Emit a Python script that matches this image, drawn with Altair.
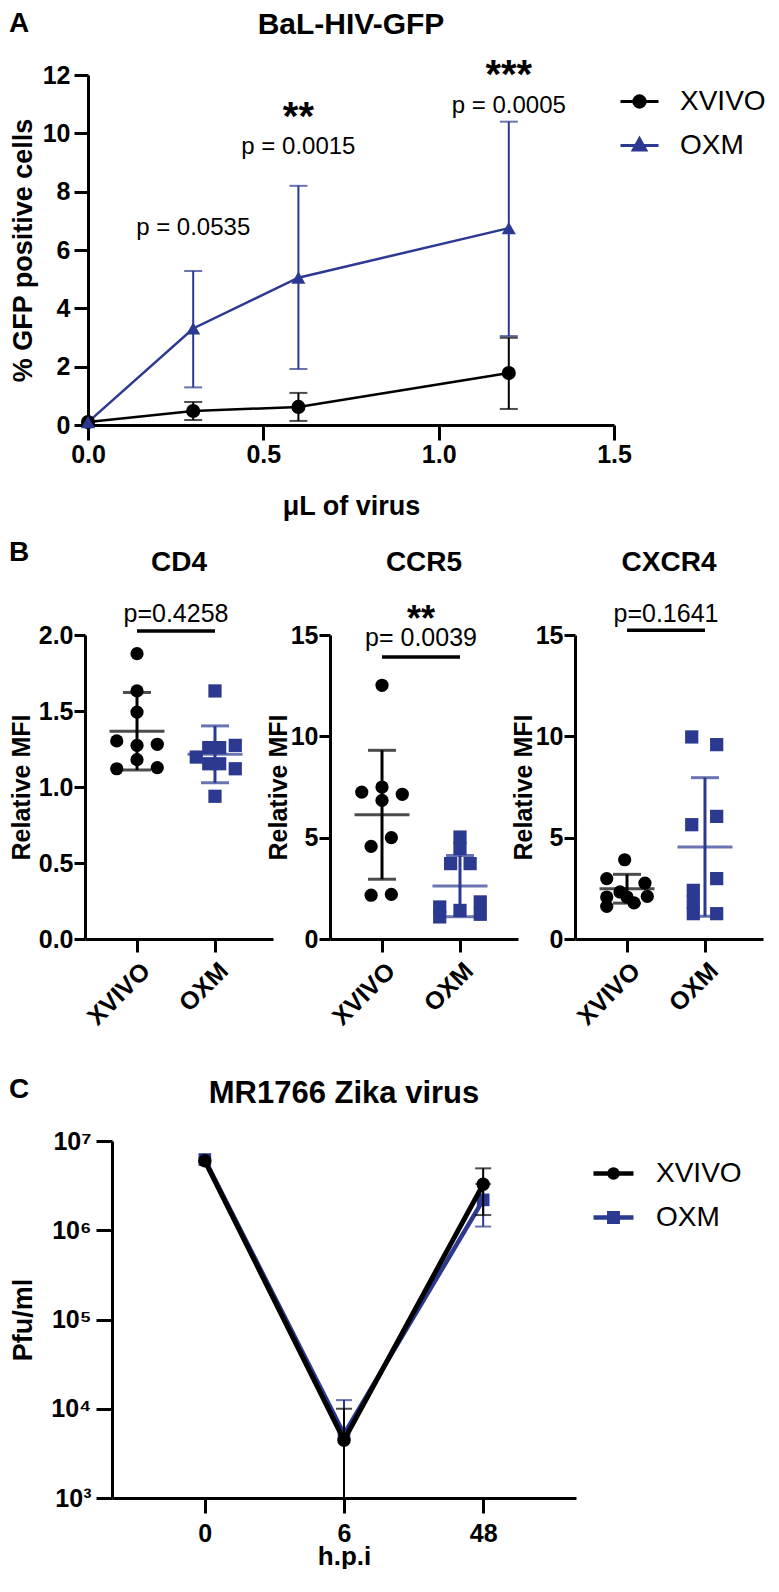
import altair as alt
import pandas as pd

BLUE = "#2B3990"
FONT = "Liberation Sans"
SERIES = ["XVIVO", "OXM"]

# ---------------- Panel A : BaL-HIV-GFP ----------------
hiv_dose = [0.0, 0.3, 0.6, 1.2]
hiv_xvivo_mean = [0.10, 0.48, 0.62, 1.78]
hiv_xvivo_lo = [0.10, 0.17, 0.14, 0.55]
hiv_xvivo_hi = [0.10, 0.79, 1.10, 2.99]
hiv_oxm_mean = [0.10, 3.31, 5.05, 6.75]
hiv_oxm_lo = [0.10, 1.29, 1.92, 3.05]
hiv_oxm_hi = [0.10, 5.28, 8.20, 10.40]
hiv_p_dose = [0.3, 0.6, 1.2]
hiv_p_text = ["p = 0.0535", "p = 0.0015", "p = 0.0005"]
hiv_p_y = [6.77, 9.52, 10.95]
hiv_star_dose = [0.6, 1.2]
hiv_star_text = ["**", "***"]
hiv_star_y = [10.52, 11.96]

# ---------------- Panel B : receptor MFI ----------------
cd4_xvivo = [1.877, 1.632, 1.493, 1.303, 1.274, 1.281, 1.18, 1.12, 1.127]
cd4_xvivo_jit = [0, 0, 0, -0.26, 0, 0.26, 0, -0.26, 0.26]
cd4_oxm = [1.632, 1.274, 1.197, 1.259, 1.259, 1.153, 1.153, 1.12, 0.939]
cd4_oxm_jit = [0, 0.26, -0.24, -0.08, 0.06, -0.08, 0.06, 0.26, 0]
cd4_mean = [1.367, 1.215]
cd4_sd = [0.255, 0.187]

ccr5_xvivo = [12.52, 7.25, 7.50, 7.14, 6.84, 5.0, 4.57, 2.16, 2.2]
ccr5_xvivo_jit = [0, -0.26, 0, 0.26, 0, 0.12, -0.14, -0.14, 0.12]
ccr5_oxm = [5.03, 4.46, 3.72, 3.72, 1.58, 1.09, 1.41, 1.83, 1.22]
ccr5_oxm_jit = [0, 0, -0.12, 0.13, -0.26, -0.26, 0, 0.26, 0.26]
ccr5_mean = [6.13, 2.61]
ccr5_sd = [3.18, 1.51]

cxcr4_xvivo = [3.91, 2.98, 2.76, 2.32, 2.07, 2.10, 2.07, 1.61, 1.78]
cxcr4_xvivo_jit = [-0.03, -0.26, 0.23, -0.09, -0.26, 0.26, 0, -0.26, 0.09]
cxcr4_oxm = [9.97, 9.59, 6.05, 5.64, 2.98, 2.40, 1.83, 1.25, 1.25]
cxcr4_oxm_jit = [-0.17, 0.15, 0.15, -0.17, 0.15, -0.15, -0.15, -0.15, 0.15]
cxcr4_mean = [2.48, 4.54]
cxcr4_sd = [0.71, 3.42]

# ---------------- Panel C : MR1766 Zika virus ----------------
zika_hpi = ["0", "6", "48"]
zika_xvivo = [6.0e6, 4.45e3, 3.27e6]
zika_xvivo_lo = [None, 100, 1.48e6]
zika_xvivo_hi = [None, 1.0e4, 4.94e6]
zika_oxm = [6.2e6, 5.2e3, 2.19e6]
zika_oxm_lo = [None, 100, 1.10e6]
zika_oxm_hi = [None, 1.25e4, 3.30e6]

color_scale = alt.Scale(domain=SERIES, range=["black", BLUE])
INDEP = dict(color="independent", shape="independent", stroke="independent")


def row_spacer(w, h, letter, lx, ly, frame):
    """Invisible cell that fixes the row's outer frame and carries the panel letter."""
    one = alt.Chart(pd.DataFrame({"v": [0]}))
    fx0, fx1, fy0, fy1 = frame
    box = one.mark_rect(opacity=0).encode(
        x=alt.value(fx0), x2=alt.value(fx1), y=alt.value(fy0), y2=alt.value(fy1))
    lab = one.mark_text(text=letter, align="left", baseline="alphabetic", font=FONT,
                        fontSize=28, fontWeight="bold", color="black").encode(
        x=alt.value(lx), y=alt.value(ly))
    return alt.layer(box, lab).properties(width=w, height=h)


# ---------- build panel A ----------
dfA = pd.DataFrame({
    "dose": hiv_dose * 2,
    "series": ["XVIVO"] * 4 + ["OXM"] * 4,
    "mean": hiv_xvivo_mean + hiv_oxm_mean,
    "lo": hiv_xvivo_lo + hiv_oxm_lo,
    "hi": hiv_xvivo_hi + hiv_oxm_hi,
})
annA = pd.DataFrame({"dose": hiv_p_dose, "y": hiv_p_y, "t": hiv_p_text})
starA = pd.DataFrame({"dose": hiv_star_dose, "y": hiv_star_y, "t": hiv_star_text})

xscA = alt.Scale(domain=[0, 1.5], nice=False, zero=False)
yscA = alt.Scale(domain=[0, 12], nice=False)
xaxA = alt.Axis(values=[0, 0.5, 1.0, 1.5], format=".1f", title="μL of virus", tickSize=15,
                labelPadding=2, titleY=68, titleFontSize=27)
yaxA = alt.Axis(values=list(range(0, 13, 2)), title="% GFP positive cells", tickSize=14,
                labelPadding=4, titleX=-51, titleFontSize=27)


def XA(f):
    return alt.X(f, type="quantitative", scale=xscA, axis=xaxA)


def YA(f):
    return alt.Y(f, type="quantitative", scale=yscA, axis=yaxA)


colA = alt.Color("series:N", scale=color_scale, legend=None)
baseA = alt.Chart(dfA)

legA = alt.Legend(title=None, orient="none", legendX=531, legendY=6, labelFont=FONT, labelFontSize=28,
                  labelColor="black", symbolSize=1444, symbolStrokeWidth=3, labelOffset=20,
                  rowPadding=9, padding=0, symbolOpacity=1)
pathsA = ["M-1,0L1,0M-0.3,0A0.3,0.3,0,1,0,0.3,0A0.3,0.3,0,1,0,-0.3,0Z",
          "M-1,0L1,0M0,-0.36L0.33,0.24L-0.33,0.24Z"]
legendA = baseA.transform_filter("false").mark_point(filled=True).encode(
    x=XA("dose"), y=YA("mean"),
    color=alt.Color("series:N", scale=color_scale, legend=legA),
    stroke=alt.Stroke("series:N", scale=color_scale, legend=legA),
    shape=alt.Shape("series:N", scale=alt.Scale(domain=SERIES, range=pathsA), legend=legA),
)
linesA = baseA.mark_line(strokeWidth=2.5).encode(x=XA("dose"), y=YA("mean"), color=colA)
errA = baseA.transform_filter("datum.dose > 0").mark_errorbar(ticks=True, size=18, thickness=2).encode(
    x=XA("dose"), y=YA("lo"), y2="hi", color=colA)
ptsA1 = baseA.transform_filter("datum.series == 'XVIVO'").mark_point(
    shape="circle", filled=True, size=200, opacity=1).encode(x=XA("dose"), y=YA("mean"), color=colA)
ptsA2 = baseA.transform_filter("datum.series == 'OXM'").mark_point(
    shape="triangle-up", filled=True, size=200, opacity=1).encode(x=XA("dose"), y=YA("mean"), color=colA)
txtA = alt.Chart(annA).mark_text(font=FONT, fontSize=24, color="black").encode(
    x=XA("dose"), y=YA("y"), text="t:N")
starsA = alt.Chart(starA).mark_text(font=FONT, fontSize=40, fontWeight="bold", color="black").encode(
    x=XA("dose"), y=YA("y"), text="t:N")

chartA = alt.layer(legendA, linesA, errA, ptsA1, ptsA2, txtA, starsA).properties(
    width=526, height=350,
    title=alt.TitleParams(text="BaL-HIV-GFP", fontSize=30, offset=16, anchor="middle", frame="group"),
)


# ---------- build panel B ----------
def panel_b(title, xv, xv_j, ox, ox_j, means, sds, ymax, yticks, yfmt,
            ptxt, py, bar_y, star, star_y, title_x):
    pts = pd.DataFrame({
        "series": ["XVIVO"] * len(xv) + ["OXM"] * len(ox),
        "pos": [0 + j for j in xv_j] + [1 + j for j in ox_j],
        "val": xv + ox,
    })
    summ = pd.DataFrame({
        "series": SERIES, "grp": [0, 1], "mean": means,
        "lo": [m - s for m, s in zip(means, sds)],
        "hi": [m + s for m, s in zip(means, sds)],
    })
    ann = pd.DataFrame({"x0": [0], "x1": [1], "xm": [0.5], "bar": [bar_y], "py": [py], "t": [ptxt]})
    xsc = alt.Scale(domain=[-0.667, 1.744], nice=False, zero=False)
    ysc = alt.Scale(domain=[0, ymax], nice=False)
    xax = alt.Axis(values=[0, 1], labelExpr="datum.value == 0 ? 'XVIVO' : 'OXM'", labelAngle=-45,
                   tickSize=13, labelPadding=6, title=None)
    yax = alt.Axis(values=yticks, format=yfmt, tickSize=11, labelPadding=1, title="Relative MFI",
                   titleX=title_x, titleFontSize=25)

    def X(f):
        return alt.X(f, type="quantitative", scale=xsc, axis=xax)

    def Y(f):
        return alt.Y(f, type="quantitative", scale=ysc, axis=yax)

    col = alt.Color("series:N", scale=color_scale, legend=None)
    bp = alt.Chart(pts)
    circ = bp.transform_filter("datum.series == 'XVIVO'").mark_point(
        shape="circle", filled=True, size=175, opacity=1).encode(x=X("pos"), y=Y("val"), color=col)
    sq = bp.transform_filter("datum.series == 'OXM'").mark_point(
        shape="square", filled=True, size=175, opacity=1).encode(x=X("pos"), y=Y("val"), color=col)
    bs = alt.Chart(summ)
    meanl = bs.mark_tick(orient="horizontal", size=55, thickness=3).encode(
        x=X("grp"), y=Y("mean"), color=col)
    sdbar = bs.mark_errorbar(ticks=True, size=28, thickness=3).encode(
        x=X("grp"), y=Y("lo"), y2="hi", color=col)
    ba = alt.Chart(ann)
    bar = ba.mark_rule(strokeWidth=3.5, color="black").encode(x=X("x0"), x2="x1", y=Y("bar"))
    ptext = ba.mark_text(font=FONT, fontSize=25, color="black").encode(x=X("xm"), y=Y("py"), text="t:N")
    layers = [circ, sq, sdbar, meanl, bar, ptext]
    if star:
        sdf = pd.DataFrame({"xm": [0.5], "sy": [star_y], "s": [star]})
        layers.append(alt.Chart(sdf).mark_text(font=FONT, fontSize=36, fontWeight="bold", color="black").encode(
            x=X("xm"), y=Y("sy"), text="s:N"))
    return alt.layer(*layers).properties(
        width=188, height=304,
        title=alt.TitleParams(text=title, fontSize=28, offset=25, anchor="middle", frame="group"),
    )


cd4 = panel_b("CD4", cd4_xvivo, cd4_xvivo_jit, cd4_oxm, cd4_oxm_jit, cd4_mean, cd4_sd,
              2.0, [0, 0.5, 1.0, 1.5, 2.0], ".1f", "p=0.4258", 2.135, 2.026, None, None, -51)
ccr5 = panel_b("CCR5", ccr5_xvivo, ccr5_xvivo_jit, ccr5_oxm, ccr5_oxm_jit, ccr5_mean, ccr5_sd,
               15, [0, 5, 10, 15], "d", "p= 0.0039", 14.83, 13.91, "**", 15.75, -39)
cxcr4 = panel_b("CXCR4", cxcr4_xvivo, cxcr4_xvivo_jit, cxcr4_oxm, cxcr4_oxm_jit, cxcr4_mean, cxcr4_sd,
                15, [0, 5, 10, 15], "d", "p=0.1641", 16.03, 15.24, None, None, -39)

# ---------- build panel C ----------
dfC = pd.DataFrame({
    "hpi": zika_hpi * 2,
    "series": ["OXM"] * 3 + ["XVIVO"] * 3,
    "val": zika_oxm + zika_xvivo,
    "lo": zika_oxm_lo + zika_xvivo_lo,
    "hi": zika_oxm_hi + zika_xvivo_hi,
})
xscC = alt.Scale(type="point", padding=0.667, domain=zika_hpi)
yscC = alt.Scale(type="log", domain=[1e3, 1e7], nice=False)
xaxC = alt.Axis(labelAngle=0, title="h.p.i", tickSize=15, labelPadding=8, titleY=45, titleFontSize=26)
yaxC = alt.Axis(values=[1e3, 1e4, 1e5, 1e6, 1e7],
                labelExpr="'10' + ['⁰','¹','²','³','⁴','⁵','⁶','⁷'][round(log(datum.value)/LN10)]",
                title="Pfu/ml", titleX=-75, tickSize=16, labelPadding=5, titleFontSize=27)


def XC(f):
    return alt.X(f, type="ordinal", scale=xscC, axis=xaxC, sort=zika_hpi)


def YC(f):
    return alt.Y(f, type="quantitative", scale=yscC, axis=yaxC)


colC = alt.Color("series:N", scale=color_scale, legend=None)
baseC = alt.Chart(dfC)
legC = alt.Legend(title=None, orient="none", legendX=479, legendY=10, labelFont=FONT, labelFontSize=28,
                  labelColor="black", symbolSize=1600, symbolStrokeWidth=4.5, labelOffset=20,
                  rowPadding=7, padding=0, symbolOpacity=1)
pathsC = ["M-1,0L1,0M-0.2,0A0.2,0.2,0,1,0,0.2,0A0.2,0.2,0,1,0,-0.2,0Z",
          "M-1,0L1,0M-0.21,-0.21L0.21,-0.21L0.21,0.21L-0.21,0.21Z"]
legendC = baseC.transform_filter("false").mark_point(filled=True).encode(
    x=XC("hpi"), y=YC("val"),
    color=alt.Color("series:N", scale=color_scale, legend=legC),
    stroke=alt.Stroke("series:N", scale=color_scale, legend=legC),
    shape=alt.Shape("series:N", scale=alt.Scale(domain=SERIES, range=pathsC), legend=legC),
)
lineC_oxm = baseC.transform_filter("datum.series == 'OXM'").mark_line(strokeWidth=4.5).encode(
    x=XC("hpi"), y=YC("val"), color=colC)
lineC_xv = baseC.transform_filter("datum.series == 'XVIVO'").mark_line(strokeWidth=5).encode(
    x=XC("hpi"), y=YC("val"), color=colC)
errC_oxm = baseC.transform_filter("datum.series == 'OXM' && isValid(datum.lo)").mark_errorbar(
    ticks=True, size=16, thickness=2, clip=True).encode(x=XC("hpi"), y=YC("lo"), y2="hi", color=colC)
errC_xv = baseC.transform_filter("datum.series == 'XVIVO' && isValid(datum.lo)").mark_errorbar(
    ticks=True, size=16, thickness=2, clip=True).encode(x=XC("hpi"), y=YC("lo"), y2="hi", color=colC)
sqC = baseC.transform_filter("datum.series == 'OXM'").mark_point(
    shape="square", filled=True, size=160, opacity=1).encode(x=XC("hpi"), y=YC("val"), color=colC)
ciC = baseC.transform_filter("datum.series == 'XVIVO'").mark_point(
    shape="circle", filled=True, size=180, opacity=1).encode(x=XC("hpi"), y=YC("val"), color=colC)

chartC = alt.layer(legendC, lineC_oxm, errC_oxm, sqC, lineC_xv, errC_xv, ciC).properties(
    width=464, height=357,
    title=alt.TitleParams(text="MR1766 Zika virus", fontSize=31, offset=19, anchor="middle", frame="group"),
)

# ---------- assemble ----------
# Row cells start at page x = 18; each row's invisible frame spans page x 8..762 and the
# rows tile the page height, so the page fits the window without scrollbars.
rowA = alt.hconcat(row_spacer(69, 359, "A", -10, -43, (-10, 744, -67, 457)), chartA,
                   spacing=0, bounds="flush").resolve_scale(**INDEP)
rowB = alt.hconcat(row_spacer(9, 304, "B", -10, -74, (-10, 744, -103, 435)), cd4, ccr5, cxcr4,
                   spacing=57, bounds="flush").resolve_scale(**INDEP)
rowC = alt.hconcat(row_spacer(93, 357, "C", -10, -43, (-10, 744, -71, 428)), chartC,
                   spacing=0, bounds="flush").resolve_scale(**INDEP)

chart = alt.vconcat(rowA, rowB, rowC, spacing=0, bounds="full").resolve_scale(**INDEP).properties(
    padding=0
).configure_view(stroke=None).configure_axis(
    domainColor="black", domainWidth=3, tickColor="black", tickWidth=3, grid=False,
    labelFont=FONT, labelFontWeight="bold", labelFontSize=25, labelColor="black",
    labelFlush=False, labelOverlap=False,
    titleFont=FONT, titleFontWeight="bold", titleColor="black",
).configure_title(font=FONT, fontWeight="bold", color="black")

chart.save("out.html", embed_options={"renderer": "svg", "actions": False})
